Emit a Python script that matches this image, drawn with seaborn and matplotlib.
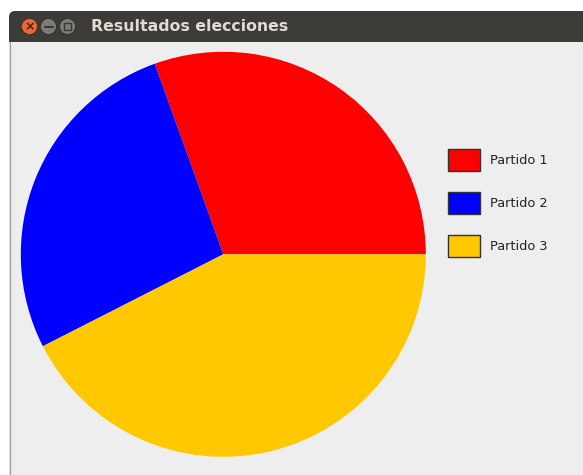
import matplotlib
matplotlib.use("Agg")
import matplotlib.pyplot as plt
import seaborn as sns
from matplotlib.patches import Rectangle, Circle, FancyBboxPatch, Patch

sns.set_theme(style="white")
plt.rcParams['font.family'] = ['DejaVu Sans']

# Data
labels = ["Partido 1", "Partido 2", "Partido 3"]
values = [30.5, 27.0, 42.5]
colors = ["#ff0000", "#0000ff", "#ffc800"]
window_title = "Resultados elecciones"

W, H = 583, 475
fig = plt.figure(figsize=(W / 100, H / 100), dpi=100)
fig.patch.set_facecolor("white")

# Window chrome (pixel coordinates)
bg = fig.add_axes([0, 0, 1, 1])
bg.set_xlim(0, W)
bg.set_ylim(H, 0)
bg.axis("off")
bg.add_patch(FancyBboxPatch((9, 11), W + 20, 40, boxstyle="round,pad=0,rounding_size=6",
                            facecolor="#3c3b37", edgecolor="none"))
bg.add_patch(Rectangle((9, 42), W, H - 42, facecolor="#eeeeee", edgecolor="none"))
bg.plot([9.5, 9.5], [42, H], color="#a0a0a0", lw=1)
bg.add_patch(Circle((29.5, 26.5), 8, facecolor="#e9683b", edgecolor="#4a2a20", lw=0.6))
bg.text(29.5, 26.8, "×", color="#3a2018", fontsize=9, ha="center", va="center", fontweight="bold")
bg.add_patch(Circle((48.5, 26.5), 8, facecolor="#7c7b76", edgecolor="#2e2d2a", lw=0.6))
bg.plot([44.5, 52.5], [26.5, 26.5], color="#3a3935", lw=1.5)
bg.add_patch(Circle((67.5, 26.5), 8, facecolor="#7c7b76", edgecolor="#2e2d2a", lw=0.6))
bg.add_patch(Rectangle((64, 23), 7, 7, facecolor="none", edgecolor="#3a3935", lw=1))
bg.text(91, 26.5, window_title, color="#dfdbd2", fontsize=11.3, fontweight="bold",
        ha="left", va="center")

# Pie chart
cx, cy, r = 223.3, 254.3, 202.5
ax = fig.add_axes([(cx - r) / W, (H - cy - r) / H, 2 * r / W, 2 * r / H])
wedges, _ = ax.pie(values, colors=colors, startangle=0, counterclock=True,
                   wedgeprops=dict(linewidth=0, antialiased=True))
ax.set_xlim(-1, 1)
ax.set_ylim(-1, 1)
ax.set_aspect("equal")
ax.axis("off")

handles = [Patch(facecolor=c, edgecolor="#333333", linewidth=1.0) for c in colors]
leg = fig.legend(handles, labels, loc="upper left",
                 bbox_to_anchor=(447.5 / W, 1 - 149 / H), bbox_transform=fig.transFigure,
                 frameon=False, fontsize=9, handlelength=2.56, handleheight=2.27,
                 labelspacing=1.73, handletextpad=0.86, borderpad=0, borderaxespad=0)
for t in leg.get_texts():
    t.set_color("#222222")
    t.set_fontsize(9.3)

fig.savefig("out.png", dpi=100, facecolor=fig.get_facecolor())
